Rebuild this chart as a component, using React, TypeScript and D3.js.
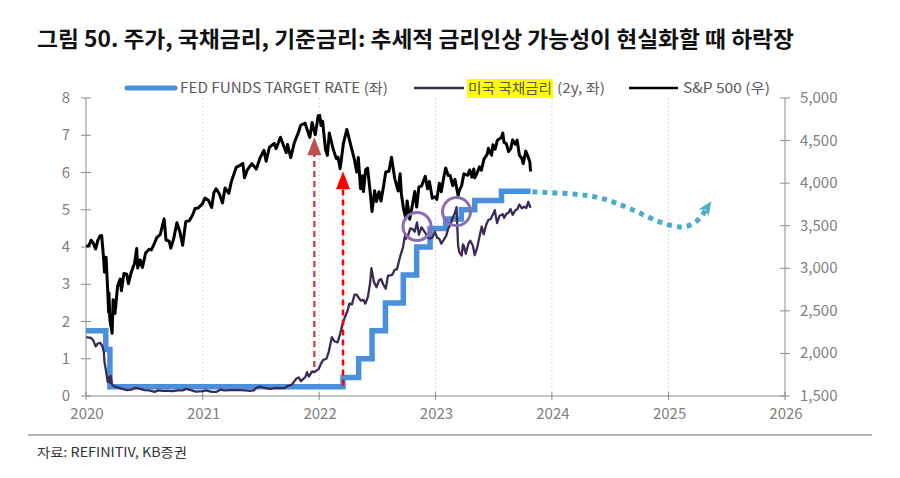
import React from "react";
import * as d3 from "d3";

const TITLE = "그림 50. 주가, 국채금리, 기준금리: 추세적 금리인상 가능성이 현실화할 때 하락장";
const SOURCE = "자료: REFINITIV, KB증권";
const YEAR_TICKS = [2020, 2021, 2022, 2023, 2024, 2025, 2026];
const LEFT_TICKS = [0, 1, 2, 3, 4, 5, 6, 7, 8];
const RIGHT_TICKS = [1500, 2000, 2500, 3000, 3500, 4000, 4500, 5000];

const fedFunds: [string, number][] = [
  ["2020-01-01", 1.75], ["2020-03-03", 1.25], ["2020-03-16", 0.25], ["2022-03-17", 0.5],
  ["2022-05-05", 1.0], ["2022-06-16", 1.75], ["2022-07-28", 2.5], ["2022-09-22", 3.25],
  ["2022-11-03", 4.0], ["2022-12-15", 4.5], ["2023-02-02", 4.75], ["2023-03-23", 5.0],
  ["2023-05-04", 5.25], ["2023-07-27", 5.5], ["2023-10-26", 5.5],
];

const ust2y: [string, number][] = [
  ["2020-01-02", 1.58], ["2020-01-10", 1.57], ["2020-01-17", 1.56], ["2020-01-24", 1.49], ["2020-01-31", 1.33],
  ["2020-02-07", 1.41], ["2020-02-14", 1.43], ["2020-02-21", 1.35], ["2020-02-26", 1.17], ["2020-02-28", 0.91],
  ["2020-03-03", 0.72], ["2020-03-09", 0.38], ["2020-03-12", 0.5], ["2020-03-16", 0.36], ["2020-03-18", 0.54],
  ["2020-03-23", 0.3], ["2020-03-31", 0.25], ["2020-04-09", 0.23], ["2020-04-22", 0.2], ["2020-05-08", 0.16],
  ["2020-05-22", 0.17], ["2020-06-05", 0.22], ["2020-06-19", 0.19], ["2020-07-02", 0.16], ["2020-07-17", 0.15],
  ["2020-08-03", 0.11], ["2020-08-14", 0.15], ["2020-08-28", 0.14], ["2020-09-15", 0.14], ["2020-09-30", 0.13],
  ["2020-10-15", 0.15], ["2020-10-30", 0.15], ["2020-11-10", 0.19], ["2020-11-25", 0.16], ["2020-12-10", 0.12],
  ["2020-12-31", 0.13], ["2021-01-12", 0.15], ["2021-01-29", 0.11], ["2021-02-12", 0.11], ["2021-02-25", 0.17],
  ["2021-03-10", 0.15], ["2021-03-31", 0.16], ["2021-04-15", 0.16], ["2021-04-30", 0.16], ["2021-05-14", 0.15],
  ["2021-05-28", 0.14], ["2021-06-10", 0.15], ["2021-06-17", 0.21], ["2021-06-30", 0.25], ["2021-07-15", 0.22],
  ["2021-07-30", 0.19], ["2021-08-13", 0.21], ["2021-08-31", 0.21], ["2021-09-15", 0.21], ["2021-09-24", 0.27],
  ["2021-09-30", 0.28], ["2021-10-08", 0.31], ["2021-10-21", 0.46], ["2021-10-29", 0.5], ["2021-11-05", 0.4],
  ["2021-11-19", 0.51], ["2021-11-24", 0.64], ["2021-11-30", 0.52], ["2021-12-10", 0.66], ["2021-12-17", 0.64],
  ["2021-12-31", 0.73], ["2022-01-07", 0.87], ["2022-01-14", 0.97], ["2022-01-24", 1.0], ["2022-01-31", 1.18],
  ["2022-02-10", 1.58], ["2022-02-18", 1.47], ["2022-02-28", 1.44], ["2022-03-08", 1.67], ["2022-03-16", 1.95],
  ["2022-03-24", 2.14], ["2022-03-31", 2.28], ["2022-04-06", 2.48], ["2022-04-14", 2.46], ["2022-04-22", 2.72],
  ["2022-04-29", 2.72], ["2022-05-04", 2.65], ["2022-05-12", 2.56], ["2022-05-20", 2.58], ["2022-05-26", 2.48],
  ["2022-06-03", 2.66], ["2022-06-10", 3.04], ["2022-06-14", 3.43], ["2022-06-22", 3.06], ["2022-06-30", 2.92],
  ["2022-07-08", 3.11], ["2022-07-14", 3.14], ["2022-07-22", 2.98], ["2022-07-29", 2.88], ["2022-08-05", 3.23],
  ["2022-08-12", 3.24], ["2022-08-19", 3.26], ["2022-08-26", 3.39], ["2022-09-02", 3.4], ["2022-09-13", 3.77],
  ["2022-09-21", 3.99], ["2022-09-27", 4.3], ["2022-09-30", 4.22], ["2022-10-07", 4.31], ["2022-10-14", 4.5],
  ["2022-10-21", 4.48], ["2022-10-28", 4.41], ["2022-11-04", 4.66], ["2022-11-10", 4.33], ["2022-11-18", 4.53],
  ["2022-11-30", 4.38], ["2022-12-07", 4.26], ["2022-12-13", 4.23], ["2022-12-22", 4.25], ["2022-12-30", 4.41],
  ["2023-01-06", 4.25], ["2023-01-13", 4.22], ["2023-01-19", 4.09], ["2023-01-27", 4.2], ["2023-02-03", 4.29],
  ["2023-02-10", 4.49], ["2023-02-17", 4.61], ["2023-02-24", 4.79], ["2023-03-02", 4.89], ["2023-03-08", 5.07],
  ["2023-03-10", 4.6], ["2023-03-13", 4.03], ["2023-03-17", 3.85], ["2023-03-24", 3.77], ["2023-03-28", 4.07],
  ["2023-03-31", 4.03], ["2023-04-06", 3.82], ["2023-04-14", 4.08], ["2023-04-20", 4.17], ["2023-04-28", 4.04],
  ["2023-05-04", 3.78], ["2023-05-12", 3.99], ["2023-05-19", 4.28], ["2023-05-26", 4.55], ["2023-06-01", 4.34],
  ["2023-06-09", 4.6], ["2023-06-16", 4.73], ["2023-06-23", 4.75], ["2023-06-30", 4.87], ["2023-07-06", 4.99],
  ["2023-07-13", 4.64], ["2023-07-21", 4.84], ["2023-07-31", 4.88], ["2023-08-04", 4.78], ["2023-08-11", 4.89],
  ["2023-08-18", 4.92], ["2023-08-24", 5.02], ["2023-08-31", 4.86], ["2023-09-08", 4.98], ["2023-09-15", 5.02],
  ["2023-09-21", 5.14], ["2023-09-29", 5.04], ["2023-10-06", 5.08], ["2023-10-13", 5.05], ["2023-10-19", 5.21],
  ["2023-10-26", 5.05],
];

const spx: [string, number][] = [
  ["2020-01-02", 3258], ["2020-01-10", 3265], ["2020-01-17", 3330], ["2020-01-24", 3295], ["2020-01-31", 3226],
  ["2020-02-07", 3328], ["2020-02-14", 3380], ["2020-02-19", 3386], ["2020-02-25", 3128], ["2020-02-28", 2954],
  ["2020-03-04", 3130], ["2020-03-09", 2746], ["2020-03-12", 2480], ["2020-03-13", 2711], ["2020-03-16", 2386],
  ["2020-03-20", 2305], ["2020-03-23", 2237], ["2020-03-26", 2630], ["2020-04-01", 2470], ["2020-04-09", 2790],
  ["2020-04-17", 2875], ["2020-04-21", 2737], ["2020-04-29", 2940], ["2020-05-08", 2930], ["2020-05-13", 2820],
  ["2020-05-22", 2955], ["2020-06-01", 3055], ["2020-06-08", 3232], ["2020-06-11", 3002], ["2020-06-19", 3098],
  ["2020-06-26", 3009], ["2020-07-06", 3180], ["2020-07-17", 3224], ["2020-07-24", 3216], ["2020-07-31", 3271],
  ["2020-08-10", 3360], ["2020-08-21", 3397], ["2020-08-28", 3508], ["2020-09-02", 3580], ["2020-09-08", 3332],
  ["2020-09-18", 3319], ["2020-09-23", 3237], ["2020-10-02", 3348], ["2020-10-12", 3534], ["2020-10-21", 3435],
  ["2020-10-30", 3270], ["2020-11-09", 3550], ["2020-11-20", 3557], ["2020-11-30", 3622], ["2020-12-08", 3702],
  ["2020-12-18", 3709], ["2020-12-31", 3756], ["2021-01-08", 3824], ["2021-01-19", 3799], ["2021-01-29", 3714],
  ["2021-02-05", 3887], ["2021-02-12", 3934], ["2021-02-22", 3876], ["2021-03-04", 3768], ["2021-03-12", 3943],
  ["2021-03-24", 3881], ["2021-04-01", 4020], ["2021-04-16", 4185], ["2021-04-29", 4211], ["2021-05-07", 4232],
  ["2021-05-12", 4063], ["2021-05-21", 4156], ["2021-06-04", 4229], ["2021-06-18", 4166], ["2021-06-30", 4298],
  ["2021-07-12", 4385], ["2021-07-19", 4258], ["2021-07-29", 4419], ["2021-08-13", 4468], ["2021-08-19", 4405],
  ["2021-08-31", 4523], ["2021-09-02", 4537], ["2021-09-20", 4358], ["2021-09-24", 4455], ["2021-10-04", 4300],
  ["2021-10-15", 4471], ["2021-10-29", 4605], ["2021-11-04", 4680], ["2021-11-18", 4704], ["2021-11-30", 4567],
  ["2021-12-03", 4538], ["2021-12-10", 4712], ["2021-12-20", 4568], ["2021-12-29", 4793], ["2022-01-03", 4796],
  ["2022-01-07", 4677], ["2022-01-12", 4726], ["2022-01-21", 4398], ["2022-01-27", 4326], ["2022-02-02", 4589],
  ["2022-02-14", 4401], ["2022-02-24", 4288], ["2022-03-01", 4306], ["2022-03-08", 4170], ["2022-03-18", 4463],
  ["2022-03-29", 4631], ["2022-04-05", 4525], ["2022-04-14", 4392], ["2022-04-22", 4272], ["2022-04-29", 4131],
  ["2022-05-04", 4300], ["2022-05-11", 3935], ["2022-05-17", 4088], ["2022-05-20", 3901], ["2022-05-27", 4158],
  ["2022-06-02", 4177], ["2022-06-10", 3901], ["2022-06-16", 3666], ["2022-06-24", 3912], ["2022-06-30", 3785],
  ["2022-07-08", 3899], ["2022-07-14", 3790], ["2022-07-22", 3962], ["2022-07-29", 4130], ["2022-08-08", 4140],
  ["2022-08-16", 4305], ["2022-08-26", 4057], ["2022-09-06", 3908], ["2022-09-12", 4110], ["2022-09-16", 3873],
  ["2022-09-23", 3693], ["2022-09-30", 3585], ["2022-10-04", 3791], ["2022-10-12", 3577], ["2022-10-21", 3752],
  ["2022-10-28", 3901], ["2022-11-03", 3720], ["2022-11-10", 3956], ["2022-11-18", 3965], ["2022-11-30", 4080],
  ["2022-12-07", 3933], ["2022-12-13", 4019], ["2022-12-22", 3822], ["2022-12-30", 3840], ["2023-01-05", 3808],
  ["2023-01-13", 3999], ["2023-01-19", 3899], ["2023-01-27", 4070], ["2023-02-02", 4179], ["2023-02-10", 4090],
  ["2023-02-16", 4090], ["2023-02-24", 3970], ["2023-03-03", 4045], ["2023-03-13", 3855], ["2023-03-17", 3917],
  ["2023-03-24", 3971], ["2023-03-31", 4109], ["2023-04-12", 4092], ["2023-04-18", 4154], ["2023-04-25", 4071],
  ["2023-05-01", 4167], ["2023-05-04", 4061], ["2023-05-12", 4124], ["2023-05-19", 4191], ["2023-05-25", 4151],
  ["2023-06-02", 4282], ["2023-06-12", 4338], ["2023-06-16", 4409], ["2023-06-26", 4328], ["2023-06-30", 4450],
  ["2023-07-07", 4398], ["2023-07-14", 4505], ["2023-07-27", 4537], ["2023-07-31", 4589], ["2023-08-04", 4478],
  ["2023-08-11", 4464], ["2023-08-18", 4370], ["2023-08-25", 4406], ["2023-08-31", 4508], ["2023-09-08", 4457],
  ["2023-09-14", 4505], ["2023-09-21", 4330], ["2023-09-29", 4288], ["2023-10-03", 4229], ["2023-10-11", 4376],
  ["2023-10-18", 4314], ["2023-10-24", 4247], ["2023-10-26", 4137],
];

// projection path of policy rate (annotation), in [date, rate]
const projection: [string, number][] = [
  ["2023-11-01", 5.48], ["2024-03-10", 5.42], ["2024-05-20", 5.34], ["2024-07-20", 5.18],
  ["2024-09-25", 4.94], ["2024-12-05", 4.67], ["2025-02-05", 4.54], ["2025-03-10", 4.59],
  ["2025-04-10", 4.78], ["2025-05-01", 5.05],
];

// arrows: date, from rate (left axis), to S&P level (right axis)
const arrows: { date: string; fromRate: number; toSpx: number; color: string }[] = [
  { date: "2021-12-17", fromRate: 0.78, toSpx: 4540, color: "#c0504d" },
  { date: "2022-03-17", fromRate: 0.28, toSpx: 4140, color: "#ff0000" },
];

// circles highlighting yield peaks: [date, rate]
const circles: [string, number][] = [
  ["2022-11-04", 4.55],
  ["2023-03-08", 4.95],
];

const parse = d3.timeParse("%Y-%m-%d");
const FONT = "'Noto Sans CJK KR', 'Noto Sans', sans-serif";

export default function App() {
  const W = 900, H = 478;
  const x = d3.scaleTime().domain([new Date(2020, 0, 1), new Date(2026, 0, 1)]).range([86, 785]);
  const yL = d3.scaleLinear().domain([0, 8]).range([396, 98]);
  const yR = d3.scaleLinear().domain([1500, 5000]).range([396, 98]);

  const lineL = d3.line<[string, number]>().x(d => x(parse(d[0])!)).y(d => yL(d[1]));
  const lineR = d3.line<[string, number]>().x(d => x(parse(d[0])!)).y(d => yR(d[1]));
  const stepL = d3.line<[string, number]>().x(d => x(parse(d[0])!)).y(d => yL(d[1])).curve(d3.curveStepAfter);
  const projLine = d3.line<[string, number]>().x(d => x(parse(d[0])!)).y(d => yL(d[1])).curve(d3.curveCatmullRom.alpha(0.5));

  // projection arrowhead
  const pn = projection.length;
  const pA = [x(parse(projection[pn - 2][0])!), yL(projection[pn - 2][1])];
  const pB = [x(parse(projection[pn - 1][0])!), yL(projection[pn - 1][1])];
  let dx = pB[0] - pA[0], dy = pB[1] - pA[1];
  const len = Math.hypot(dx, dy);
  dx /= len; dy /= len;
  const tip = [pB[0] + dx * 8, pB[1] + dy * 8];
  const headL = 14, headW = 6;
  const base = [tip[0] - dx * headL, tip[1] - dy * headL];
  const projHead = `${tip[0]},${tip[1]} ${base[0] - dy * headW},${base[1] + dx * headW} ${base[0] + dx * 4},${base[1] + dy * 4} ${base[0] + dy * headW},${base[1] - dx * headW}`;

  const x0 = 86, x1 = 785, yTop = 98, yBot = 396;

  return (
    <svg width={W} height={H} style={{ position: "absolute", left: 0, top: 0, background: "#fff" }} fontFamily={FONT}>
      <rect width={W} height={H} fill="#fff" />
      <text x={37} y={47} fontSize={22} fontWeight={700} fill="#111" textLength={757} lengthAdjust="spacingAndGlyphs">{TITLE}</text>

      {/* gridlines */}
      {YEAR_TICKS.slice(1, -1).map(yr => (
        <line key={yr} x1={x(new Date(yr, 0, 1))} x2={x(new Date(yr, 0, 1))} y1={yTop} y2={yBot}
          stroke="#d9d9d9" strokeWidth={1} strokeDasharray="2 2" />
      ))}

      {/* axes */}
      <line x1={x0} x2={x0} y1={yTop} y2={yBot} stroke="#8c8c8c" strokeWidth={1} />
      <line x1={x1} x2={x1} y1={yTop} y2={yBot} stroke="#8c8c8c" strokeWidth={1} />
      <line x1={x0} x2={x1} y1={yBot} y2={yBot} stroke="#8c8c8c" strokeWidth={1} />
      {LEFT_TICKS.map(t => (
        <g key={t}>
          <line x1={x0 - 5} x2={x0 + 5} y1={yL(t)} y2={yL(t)} stroke="#8c8c8c" />
          <text x={70} y={yL(t) + 5} fontSize={15} fill="#808080" textAnchor="end">{t}</text>
        </g>
      ))}
      {RIGHT_TICKS.map(t => (
        <g key={t}>
          <line x1={x1 - 5} x2={x1 + 5} y1={yR(t)} y2={yR(t)} stroke="#8c8c8c" />
          <text x={800} y={yR(t) + 5} fontSize={15} fill="#808080">{d3.format(",")(t)}</text>
        </g>
      ))}
      {YEAR_TICKS.map(yr => (
        <g key={yr}>
          <line x1={x(new Date(yr, 0, 1))} x2={x(new Date(yr, 0, 1))} y1={yBot - 4} y2={yBot + 4} stroke="#8c8c8c" />
          <text x={x(new Date(yr, 0, 1)) + 1} y={419} fontSize={15} fill="#808080" textAnchor="middle">{yr}</text>
        </g>
      ))}

      {/* series */}
      <path d={stepL(fedFunds)!} fill="none" stroke="#4a8fdb" strokeWidth={5.5} />
      <path d={lineL(ust2y)!} fill="none" stroke="#3b2a55" strokeWidth={2.3} strokeLinejoin="round" />
      <path d={lineR(spx)!} fill="none" stroke="#000" strokeWidth={3} strokeLinejoin="round" />

      {/* projection */}
      <path d={projLine(projection)!} fill="none" stroke="#4bacc6" strokeWidth={5} strokeDasharray="5 5" />
      <polygon points={projHead} fill="#4bacc6" />

      {/* circles */}
      {circles.map((c, i) => (
        <circle key={i} cx={x(parse(c[0])!)} cy={yL(c[1])} r={14} fill="none" stroke="#8c6bb1" strokeWidth={3} />
      ))}

      {/* arrows */}
      {arrows.map((a, i) => {
        const ax = x(parse(a.date)!);
        const yFrom = yL(a.fromRate);
        const yTip = yR(a.toSpx);
        return (
          <g key={i}>
            <line x1={ax} x2={ax} y1={yFrom} y2={yTip + 16} stroke={a.color} strokeWidth={2.5} strokeDasharray="6 4" />
            <polygon points={`${ax},${yTip} ${ax - 7},${yTip + 18} ${ax + 7},${yTip + 18}`} fill={a.color} />
          </g>
        );
      })}

      {/* legend */}
      <line x1={127} x2={175} y1={88} y2={88} stroke="#4a8fdb" strokeWidth={5} strokeLinecap="round" />
      <text x={180} y={93} fontSize={14} fill="#595959" textLength={208} lengthAdjust="spacingAndGlyphs">FED FUNDS TARGET RATE (좌)</text>
      <line x1={414} x2={464} y1={88} y2={88} stroke="#3b2a55" strokeWidth={2.5} />
      <rect x={467} y={79} width={86} height={19} fill="#ffff00" />
      <text x={468} y={93} fontSize={14} fill="#595959" textLength={84} lengthAdjust="spacingAndGlyphs">미국 국채금리</text>
      <text x={557} y={93} fontSize={14} fill="#595959" textLength={48} lengthAdjust="spacingAndGlyphs">(2y, 좌)</text>
      <line x1={629} x2={678} y1={88} y2={88} stroke="#000" strokeWidth={2.5} />
      <text x={683} y={93} fontSize={14} fill="#595959" textLength={87} lengthAdjust="spacingAndGlyphs">S&amp;P 500 (우)</text>

      {/* footer */}
      <line x1={28} x2={872} y1={435} y2={435} stroke="#9a9a9a" strokeWidth={1.5} />
      <text x={37} y={457} fontSize={13} fill="#333" textLength={150} lengthAdjust="spacingAndGlyphs">{SOURCE}</text>
    </svg>
  );
}
